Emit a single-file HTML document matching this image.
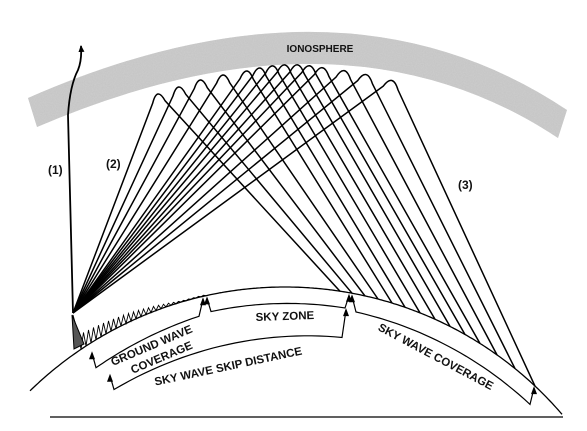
<!DOCTYPE html>
<html><head><meta charset="utf-8"><style>
html,body{margin:0;padding:0;background:#fff}
svg{display:block}
text{font-family:"Liberation Sans",Arial,sans-serif;font-weight:bold;fill:#111}
</style></head><body>
<svg id="d" width="587" height="431" viewBox="0 0 587 431">
<defs>
<filter id="noise" x="0" y="0" width="100%" height="100%">
<feTurbulence type="fractalNoise" baseFrequency="0.9" numOctaves="1" seed="3"/>
<feColorMatrix type="matrix" values="0 0 0 0 0.55  0 0 0 0 0.55  0 0 0 0 0.55  0 0 0 -1.2 1.1"/>
<feComposite in2="SourceGraphic" operator="in"/>
</filter>
<marker id="ah" markerWidth="8" markerHeight="8" refX="6" refY="4" orient="auto" markerUnits="userSpaceOnUse"><path d="M0,1 L7,4 L0,7 Z" fill="#000"/></marker>
</defs>
<g>
<path d="M28,98 Q342,-40 567,110 L558,138 Q343,-4.5 37,127 Z" fill="#cdcdcd"/>
<path d="M28,98 Q342,-40 567,110 L558,138 Q343,-4.5 37,127 Z" fill="#c9c9c9" filter="url(#noise)"/>
<text x="320" y="52" font-size="10" text-anchor="middle">IONOSPHERE</text>
</g>
<line x1="50" y1="417" x2="563" y2="417" stroke="#000" stroke-width="1.3"/>
<g id="earth"></g>
<g id="rays"></g>
<g id="brackets"></g>
<path d="M73,313 L68,115 Q70,85 78,70 Q82,60 81,46" fill="none" stroke="#000" stroke-width="1.8" marker-end="url(#ah)"/>
<text x="48" y="174" font-size="12">(1)</text>
<text x="106" y="168" font-size="12">(2)</text>
<text x="458" y="189" font-size="12">(3)</text>
<g>
<path d="M72,315 L74,349 L84,344 Z" fill="#555" stroke="#000" stroke-width="1"/>
</g>
<text transform="translate(153,349) rotate(-23)" font-size="11.5" text-anchor="middle">GROUND WAVE</text>
<text transform="translate(163,361) rotate(-23)" font-size="11.5" text-anchor="middle">COVERAGE</text>
<text transform="translate(285,320) rotate(-2)" font-size="11.5" text-anchor="middle">SKY ZONE</text>
<text transform="translate(229,370) rotate(-12)" font-size="11.5" text-anchor="middle">SKY WAVE SKIP DISTANCE</text>
<text transform="translate(434,360) rotate(28)" font-size="11.5" text-anchor="middle">SKY WAVE COVERAGE</text>
</svg>
<script>
const peakX=[157,178,200,223,247,260,273,285,298,310,323,345,367,393];
const peakY=[92,85,78,73,69,66,64,63,63,64,66,69,73,79];
const landX=[340,352,365,378,392,405,420,435,450,465,480,497,515,535];
const src=[73,313];
const CX=285,CY=652,R=365;
const NS="http://www.w3.org/2000/svg";
function ey(x,r){r=r||R;return CY-Math.sqrt(r*r-(x-CX)*(x-CX));}
function mk(tag,attrs,parent){const e=document.createElementNS(NS,tag);for(const k in attrs)e.setAttribute(k,attrs[k]);parent.appendChild(e);return e;}
function arc(x1,x2,r,step){let d="";for(let x=x1;x<=x2;x+=step){d+=(d?"L":"M")+x.toFixed(1)+","+ey(x,r).toFixed(1);}return d;}
const earth=document.getElementById('earth');
const ep=mk('path',{d:arc(30,563,R,2),fill:"none",stroke:"#000","stroke-width":1.3},earth);


let gz="M"+src[0]+","+(src[1]+2);
for(let i=0;i<26;i++){const x=76+i*5;const a=Math.max(1,16*(1-i/22));gz+="L"+(x+2.5)+","+(ey(x+2.5)-a).toFixed(1)+"L"+(x+5)+","+ey(x+5).toFixed(1);}
const gw=mk('path',{d:gz,fill:"none",stroke:"#000","stroke-width":0.9},earth);


const rays=document.getElementById('rays');
for(let i=0;i<peakX.length;i++){
  const px=peakX[i],py=peakY[i],lx=landX[i],ly=ey(lx);
  const u=[src[0]-px,src[1]-py],ul=Math.hypot(u[0],u[1]);
  const v=[lx-px,ly-py],vl=Math.hypot(v[0],v[1]);
  const k=12;
  const a=[px+u[0]/ul*k,py+u[1]/ul*k],b=[px+v[0]/vl*k,py+v[1]/vl*k];
  const d=`M${src[0]},${src[1]}L${a[0].toFixed(1)},${a[1].toFixed(1)}Q${px},${py-6} ${b[0].toFixed(1)},${b[1].toFixed(1)}L${lx},${ly.toFixed(1)}`;
  const p=mk('path',{d:d,fill:"none",stroke:"#000","stroke-width":1.5},rays);
  
  
}
const br=document.getElementById('brackets');
function bracket(x1,x2,o1,o2,t1,t2,name){
  let d=`M${x1},${(ey(x1)+t1+2).toFixed(1)}`;
  const n=30;
  for(let i=0;i<=n;i++){const x=x1+4+(x2-x1-8)*i/n;const o=o1+(o2-o1)*i/n;d+=`L${x.toFixed(1)},${(ey(x)+o).toFixed(1)}`;}
  d+=`L${x2},${(ey(x2)+t2+2).toFixed(1)}`;
  const p=mk('path',{d:d,fill:"none",stroke:"#000","stroke-width":1.2},br);
  
  
  const y1=ey(x1)+t1,y2=ey(x2)+t2;
  const a1=mk('path',{d:`M${x1-3},${(y1+8).toFixed(1)}L${x1},${y1.toFixed(1)}L${x1+3},${(y1+8).toFixed(1)}Z`,fill:"#000"},br);
  
  
  const a2=mk('path',{d:`M${x2-3},${(y2+8).toFixed(1)}L${x2},${y2.toFixed(1)}L${x2+3},${(y2+8).toFixed(1)}Z`,fill:"#000"},br);
  
  
}
bracket(92,203,28,19,9,1,'ground-wave-bracket');
bracket(207,349,17,16,1,1,'sky-zone-bracket');
bracket(110,346,60,46,42,16,'skip-distance-bracket');
bracket(352,534,18,23,1,1,'sky-wave-coverage-bracket');
</script>
</body></html>
